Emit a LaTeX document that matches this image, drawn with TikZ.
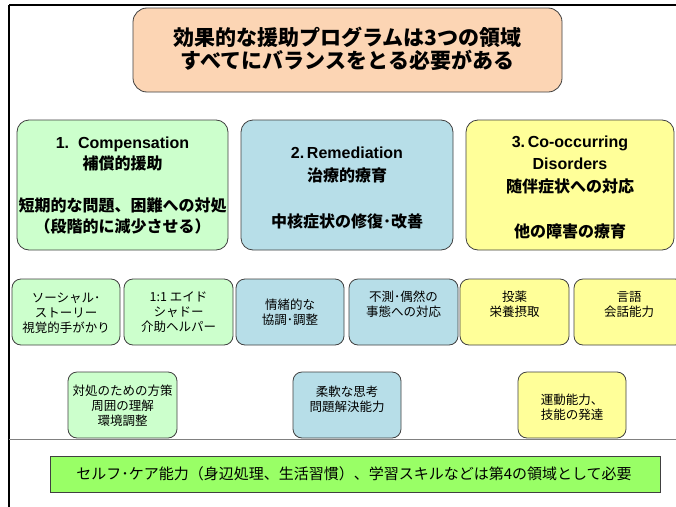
\documentclass[tikz,border=0pt]{standalone}
\usepackage{fontspec}
\setmainfont{Noto Sans CJK JP}
\newfontfamily\lat{Liberation Sans}
\usetikzlibrary{backgrounds}
\definecolor{gfill}{HTML}{CCFFCC}
\definecolor{bfill}{HTML}{B7DEE8}
\definecolor{yfill}{HTML}{FFFF99}
\definecolor{ofill}{HTML}{FCD5B4}
\definecolor{barfill}{HTML}{99FF66}
\definecolor{edge}{HTML}{404040}
\begin{document}
\begin{tikzpicture}[x=1pt,y=-1pt,
  mainbox/.style={draw=edge, line width=0.8pt, rounded corners=12pt, inner sep=0pt, minimum height=130pt},
  smallbox/.style={draw=edge, line width=0.8pt, rounded corners=9pt, inner sep=0pt, minimum height=66pt},
  bigtxt/.style={align=center, inner sep=0pt, font=\fontsize{16}{21}\selectfont\bfseries},
  smtxt/.style={align=center, inner sep=0pt, font=\fontsize{12.5}{15}\selectfont},
  conn/.style={line width=1.6pt, black}]
\clip (0,0) rectangle (676,506);
\fill[white] (0,0) rectangle (676,506);
% frame
\draw[line width=2.5pt] (9,5) -- (680,5);
\draw[line width=2.5pt] (9,5) -- (9,510);
\draw[line width=0.8pt, gray] (9,439) -- (680,439);
% top
\node[draw=edge, line width=0.8pt, rounded corners=14pt, fill=ofill, minimum width=429pt, minimum height=84pt] (top) at (347.5,50) {};
\node[align=center, inner sep=0pt, font=\fontsize{21}{23}\selectfont\bfseries] (toptxt) at (347.5,48.5) {効果的な援助プログラムは3つの領域\\すべてにバランスをとる必要がある};
% main boxes
\node[mainbox, fill=gfill, minimum width=211pt] (m1) at (122.5,185) {};
\node[mainbox, fill=bfill, minimum width=212pt] (m2) at (347,185) {};
\node[mainbox, fill=yfill, minimum width=208pt] (m3) at (570,185) {};
\node[bigtxt] (m1t) at (122.5,185.5) {{\lat 1.\ \ Compensation}\\補償的援助\\[21pt]短期的な問題、困難への対処\\（段階的に減少させる）};
\node[bigtxt, font=\fontsize{16}{23}\selectfont\bfseries] (m2t) at (347,187.5) {{\lat 2.\,Remediation}\\治療的療育\\[23pt]中核症状の修復･改善};
\node[bigtxt, font=\fontsize{16}{22.5}\selectfont\bfseries] (m3t) at (570,187) {{\lat 3.\,Co-occurring}\\{\lat Disorders}\\随伴症状への対応\\[22.5pt]他の障害の療育};
% small boxes row
\node[smallbox, fill=gfill, minimum width=108pt] (g1) at (66,312) {};
\node[smallbox, fill=gfill, minimum width=109pt] (g2) at (178.5,312) {};
\node[smallbox, fill=bfill, minimum width=108pt] (b1) at (290,312) {};
\node[smallbox, fill=bfill, minimum width=109pt] (b2) at (403.5,312) {};
\node[smallbox, fill=yfill, minimum width=109pt] (y1) at (514.5,312) {};
\node[smallbox, fill=yfill, minimum width=110pt] (y2) at (629,312) {};
\node[smtxt] (g1t) at (66,313) {ソーシャル･\\ストーリー\\視覚的手がかり};
\node[smtxt] (g2t) at (178.5,312.5) {1:1 エイド\\シャドー\\介助ヘルパー};
\node[smtxt] (b1t) at (290,312.5) {情緒的な\\協調･調整};
\node[smtxt] (b2t) at (403.5,304.5) {不測･偶然の\\事態への対応};
\node[smtxt] (y1t) at (514.5,304.5) {投薬\\栄養摂取};
\node[smtxt] (y2t) at (629,304.5) {言語\\会話能力};
% bottom row
\node[smallbox, fill=gfill, minimum width=109pt] (g3) at (122.5,405) {};
\node[smallbox, fill=bfill, minimum width=108pt] (b3) at (347,405) {};
\node[smallbox, fill=yfill, minimum width=108pt] (y3) at (572,405) {};
\node[smtxt] (g3t) at (122.5,405.5) {対処のための方策\\周囲の理解\\環境調整};
\node[smtxt] (b3t) at (347,399) {柔軟な思考\\問題解決能力};
\node[smtxt] (y3t) at (572,407.5) {運動能力、\\技能の発達};
% bar
\node[draw=edge, line width=0.8pt, fill=barfill, minimum width=610pt, minimum height=36pt, inner sep=0pt] (bar) at (355,474) {};
\node[inner sep=0pt, font=\fontsize{15}{16}\selectfont] (bart) at (354,474) {セルフ･ケア能力（身辺処理、生活習慣）、学習スキルなどは第4の領域として必要};
% connectors
\coordinate (j) at (347.5,110);
\begin{scope}[on background layer]
\draw[conn] (top.south) -- (j);
\draw[conn] (j) -| (g3.north);
\draw[conn] (j) -- (b3.north);
\draw[conn] (j) -| (y3.north);
\end{scope}
\end{tikzpicture}
\end{document}
